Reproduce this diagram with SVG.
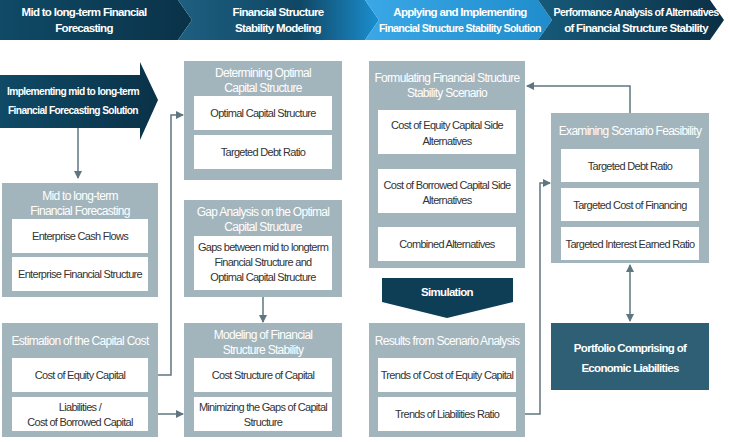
<svg xmlns="http://www.w3.org/2000/svg" width="730" height="442" viewBox="0 0 730 442">
<defs>
<linearGradient id="g1" x1="0" x2="1"><stop offset="0" stop-color="#0f4a66"/><stop offset="1" stop-color="#0a3248"/></linearGradient>
<linearGradient id="g2" x1="0" x2="1"><stop offset="0" stop-color="#1e5f80"/><stop offset="0.6" stop-color="#0f4663"/><stop offset="1" stop-color="#1b8fd0"/></linearGradient>
<linearGradient id="g3" x1="0" x2="1"><stop offset="0" stop-color="#3aa8e6"/><stop offset="1" stop-color="#1f8ccb"/></linearGradient>
<linearGradient id="g4" x1="0" x2="1"><stop offset="0" stop-color="#165a7a"/><stop offset="1" stop-color="#0b2f45"/></linearGradient>
<marker id="ah" markerWidth="8" markerHeight="8" refX="7" refY="4" orient="auto" markerUnits="userSpaceOnUse"><path d="M0,0 L8,4 L0,8 Z" fill="#5f7680"/></marker>
<marker id="as" markerWidth="8" markerHeight="8" refX="1" refY="4" orient="auto" markerUnits="userSpaceOnUse"><path d="M8,0 L0,4 L8,8 Z" fill="#5f7680"/></marker>
</defs>
<style>
text{font-family:"Liberation Sans",Arial,sans-serif;text-anchor:middle;letter-spacing:-0.7px}
.h{fill:#fff;font-size:11.5px;font-weight:bold}
.box{fill:#a3b5bc}
.in{fill:#fff}
.t{fill:#fff;font-size:12px}
.i{fill:#333;font-size:11px}
.c{fill:none;stroke:#5f7680;stroke-width:1.5}
</style>
<rect width="730" height="442" fill="#fff"/>
<g id="header">
<polygon points="0,0 178,0 192,20 178,40 0,40" fill="url(#g1)"/>
<polygon points="178,0 365,0 379,20 365,40 178,40 192,20" fill="url(#g2)"/>
<polygon points="365,0 538,0 552,20 538,40 365,40 379,20" fill="url(#g3)"/>
<polygon points="538,0 710,0 724,20 710,40 538,40 552,20" fill="url(#g4)"/>
<text class="h" x="84" y="16">Mid to long-term Financial</text>
<text class="h" x="84" y="32">Forecasting</text>
<text class="h" x="278" y="16">Financial Structure</text>
<text class="h" x="278" y="32">Stability Modeling</text>
<text class="h" x="460" y="16">Applying and Implementing</text>
<text class="h" x="460" y="32" textLength="162" lengthAdjust="spacingAndGlyphs">Financial Structure Stability Solution</text>
<text class="h" x="636" y="16" textLength="165" lengthAdjust="spacingAndGlyphs">Performance Analysis of Alternatives</text>
<text class="h" x="636" y="32">of Financial Structure Stability</text>
</g>
<g id="connectors">
<line class="c" x1="78" y1="128" x2="78" y2="178" marker-end="url(#ah)"/>
<polyline class="c" points="158,375 171,375 171,115 183,115" marker-end="url(#ah)"/>
<line class="c" x1="158" y1="414" x2="183" y2="414" marker-end="url(#ah)"/>
<line class="c" x1="263" y1="297" x2="263" y2="322" marker-end="url(#ah)"/>
<polyline class="c" points="630,113 630,86 527,86" marker-end="url(#ah)"/>
<polyline class="c" points="525,414 540,414 540,183 550,183" marker-end="url(#ah)"/>
<line class="c" x1="630" y1="265" x2="630" y2="321" marker-start="url(#as)" marker-end="url(#ah)"/>
</g>
<g id="implementing">
<polygon points="0,75 140,75 140,62 158,100 140,140 140,128 0,128" fill="url(#g1)"/>
<text class="h" x="73" y="95" textLength="132" lengthAdjust="spacingAndGlyphs">Implementing mid to long-term</text>
<text class="h" x="73" y="114" textLength="130" lengthAdjust="spacingAndGlyphs">Financial Forecasting Solution</text>
</g>
<g id="forecasting">
<rect class="box" x="2" y="183" width="156" height="114"/>
<text class="t" x="80" y="200">Mid to long-term</text><text class="t" x="80" y="215">Financial Forecasting</text>
<rect class="in" x="12" y="219" width="136" height="34"/><text class="i" x="80" y="240">Enterprise Cash Flows</text>
<rect class="in" x="12" y="257" width="136" height="34"/><text class="i" x="80" y="278">Enterprise Financial Structure</text>
</g>
<g id="estimation">
<rect class="box" x="2" y="323" width="156" height="114"/>
<text class="t" x="80" y="345">Estimation of the Capital Cost</text>
<rect class="in" x="12" y="358" width="136" height="34"/><text class="i" x="80" y="379">Cost of Equity Capital</text>
<rect class="in" x="12" y="397" width="136" height="34"/><text class="i" x="80" y="411">Liabilities /</text><text class="i" x="80" y="426">Cost of Borrowed Capital</text>
</g>
<g id="optimal">
<rect class="box" x="184" y="61" width="158" height="119"/>
<text class="t" x="263" y="77">Determining Optimal</text><text class="t" x="263" y="92">Capital Structure</text>
<rect class="in" x="194" y="96" width="138" height="34"/><text class="i" x="263" y="117">Optimal Capital Structure</text>
<rect class="in" x="194" y="135" width="138" height="34"/><text class="i" x="263" y="156">Targeted Debt Ratio</text>
</g>
<g id="gap">
<rect class="box" x="184" y="200" width="158" height="97"/>
<text class="t" x="263" y="216">Gap Analysis on the Optimal</text><text class="t" x="263" y="231">Capital Structure</text>
<rect class="in" x="194" y="236" width="138" height="54"/>
<text class="i" x="263" y="251">Gaps between mid to longterm</text><text class="i" x="263" y="266">Financial Structure and</text><text class="i" x="263" y="281">Optimal Capital Structure</text>
</g>
<g id="modeling">
<rect class="box" x="184" y="323" width="158" height="114"/>
<text class="t" x="263" y="339">Modeling of Financial</text><text class="t" x="263" y="354">Structure Stability</text>
<rect class="in" x="194" y="358" width="138" height="34"/><text class="i" x="263" y="379">Cost Structure of Capital</text>
<rect class="in" x="194" y="397" width="138" height="34"/><text class="i" x="263" y="411">Minimizing the Gaps of Capital</text><text class="i" x="263" y="426">Structure</text>
</g>
<g id="scenario">
<rect class="box" x="369" y="61" width="156" height="207"/>
<text class="t" x="447" y="82">Formulating Financial Structure</text><text class="t" x="447" y="97">Stability Scenario</text>
<rect class="in" x="378" y="110" width="138" height="44"/><text class="i" x="447" y="129">Cost of Equity Capital Side</text><text class="i" x="447" y="145">Alternatives</text>
<rect class="in" x="378" y="169" width="138" height="44"/><text class="i" x="447" y="189">Cost of Borrowed Capital Side</text><text class="i" x="447" y="204">Alternatives</text>
<rect class="in" x="378" y="227" width="138" height="34"/><text class="i" x="447" y="248">Combined Alternatives</text>
</g>
<g id="simulation">
<polygon points="382,278 513,278 513,302 447,318 382,302" fill="#0e3d56"/>
<text class="h" x="447" y="296">Simulation</text>
</g>
<g id="results">
<rect class="box" x="369" y="323" width="156" height="114"/>
<text class="t" x="447" y="345">Results from Scenario Analysis</text>
<rect class="in" x="378" y="358" width="138" height="34"/><text class="i" x="447" y="379">Trends of Cost of Equity Capital</text>
<rect class="in" x="378" y="397" width="138" height="34"/><text class="i" x="447" y="418">Trends of Liabilities Ratio</text>
</g>
<g id="feasibility">
<rect class="box" x="551" y="113" width="158" height="150"/>
<text class="t" x="630" y="135">Examining Scenario Feasibility</text>
<rect class="in" x="561" y="149" width="138" height="33"/><text class="i" x="630" y="170">Targeted Debt Ratio</text>
<rect class="in" x="561" y="188" width="138" height="33"/><text class="i" x="630" y="209">Targeted Cost of Financing</text>
<rect class="in" x="561" y="227" width="138" height="33"/><text class="i" x="630" y="248">Targeted Interest Earned Ratio</text>
</g>
<g id="portfolio">
<rect x="551" y="323" width="158" height="67" fill="#2e5f75"/>
<text class="h" x="630" y="352">Portfolio Comprising of</text><text class="h" x="630" y="372">Economic Liabilities</text>
</g>
</svg>
